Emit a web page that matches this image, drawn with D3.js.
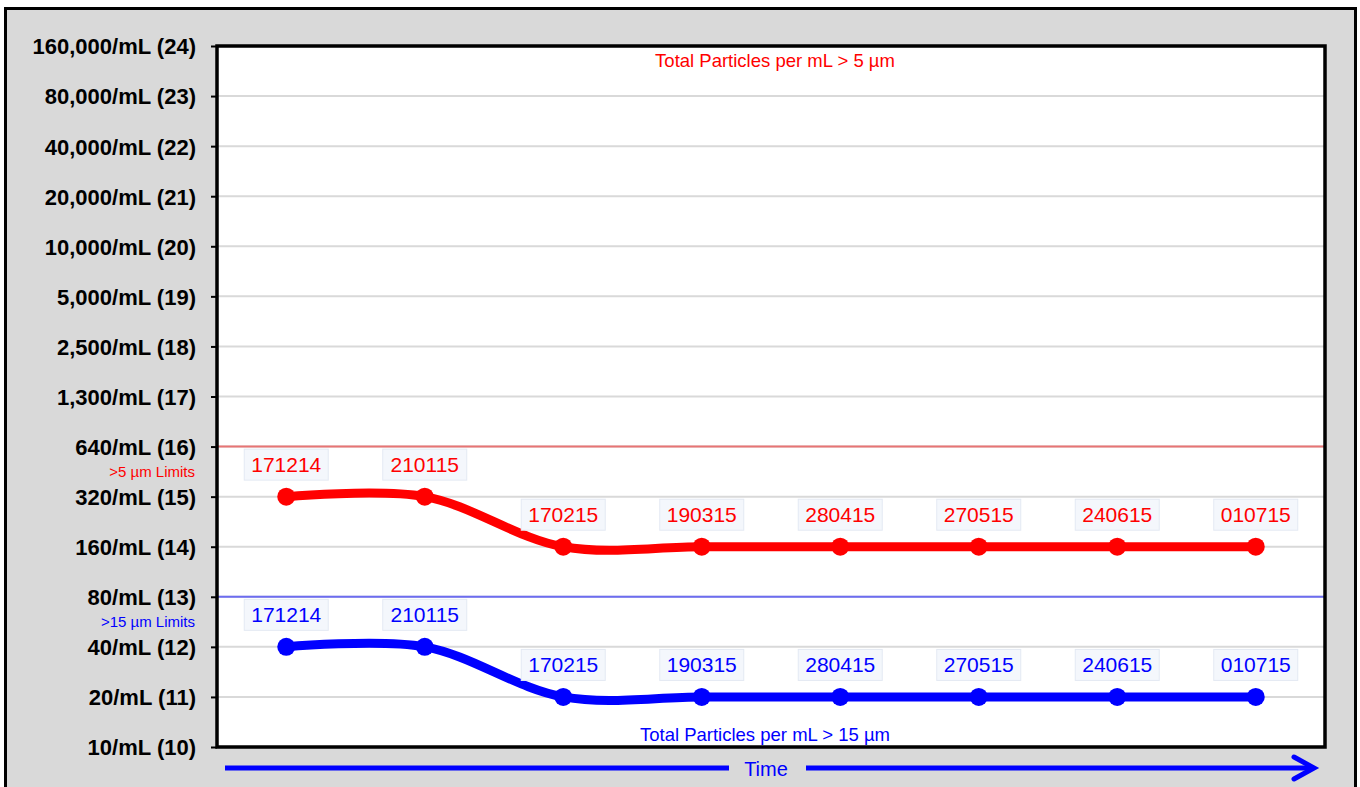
<!DOCTYPE html>
<html>
<head>
<meta charset="utf-8">
<script src="https://cdn.jsdelivr.net/npm/d3@7"></script>
<style>
html,body{margin:0;padding:0;background:#fff;overflow:hidden;}
svg{display:block;font-family:Arial,"Liberation Sans",sans-serif;}
</style>
</head>
<body>
<svg id="chart" width="1360" height="787"></svg>
<script>
// ---- data ----
const categories = ["171214","210115","170215","190315","280415","270515","240615","010715"];
const red5Codes   = [15,15,14,14,14,14,14,14];   // > 5 µm ISO code
const blue15Codes = [12,12,11,11,11,11,11,11];   // > 15 µm ISO code
const tickCodes  = [10,11,12,13,14,15,16,17,18,19,20,21,22,23,24];
const tickLabels = ["10/mL (10)","20/mL (11)","40/mL (12)","80/mL (13)","160/mL (14)","320/mL (15)",
  "640/mL (16)","1,300/mL (17)","2,500/mL (18)","5,000/mL (19)","10,000/mL (20)","20,000/mL (21)",
  "40,000/mL (22)","80,000/mL (23)","160,000/mL (24)"];
const limit5 = 16, limit15 = 13;
const limitLabels = [">5 µm Limits", ">15 µm Limits"];
const seriesNames = ["Total Particles per mL > 5 µm", "Total Particles per mL > 15 µm"];

// ---- layout ----
const svg = d3.select("#chart");
const L = 217, R = 1325, T = 46, B = 747;

svg.append("rect").attr("x",5.5).attr("y",8.5).attr("width",1350).attr("height",800)
  .attr("fill","#d9d9d9").attr("stroke","#000").attr("stroke-width",3);

svg.append("rect").attr("x",L).attr("y",T).attr("width",R-L).attr("height",B-T).attr("fill","#fff");

const x = d3.scaleBand().domain(categories).range([L,R]);
const cx = d => x(d) + x.bandwidth()/2;
const y = d3.scaleLinear().domain([10,24]).range([B,T]);

// gridlines
svg.append("g").selectAll("line").data(tickCodes.filter(c=>c>10 && c<24)).join("line")
  .attr("x1",L).attr("x2",R).attr("y1",d=>y(d)).attr("y2",d=>y(d))
  .attr("stroke","#d9d9d9").attr("stroke-width",2);

// limit lines
svg.append("line").attr("x1",L).attr("x2",R).attr("y1",y(limit5)).attr("y2",y(limit5))
  .attr("stroke","#e87474").attr("stroke-width",2);
svg.append("line").attr("x1",L).attr("x2",R).attr("y1",y(limit15)).attr("y2",y(limit15))
  .attr("stroke","#6c6cf0").attr("stroke-width",2);

// y axis
const yAxis = d3.axisLeft(y).tickValues(tickCodes)
  .tickFormat(d => tickLabels[tickCodes.indexOf(d)]).tickSize(6).tickPadding(15);
const ga = svg.append("g").attr("transform",`translate(${L},0)`).call(yAxis);
ga.select(".domain").remove();
ga.selectAll(".tick line").attr("stroke","#000").attr("stroke-width",2);
ga.selectAll(".tick text").attr("font-size","22px").attr("font-weight","bold")
  .attr("fill","#000").attr("font-family","Arial, 'Liberation Sans', sans-serif").attr("dy","0.36em");

// limit labels
svg.append("text").attr("x",195).attr("y",y(limit5)+30).attr("text-anchor","end")
  .attr("font-size","15px").attr("fill","#ff0000").text(limitLabels[0]);
svg.append("text").attr("x",195).attr("y",y(limit15)+30).attr("text-anchor","end")
  .attr("font-size","15px").attr("fill","#0000ff").text(limitLabels[1]);

// plot border
svg.append("rect").attr("x",L).attr("y",T).attr("width",R-L).attr("height",B-T)
  .attr("fill","none").attr("stroke","#000").attr("stroke-width",3.5);

// series
function drawSeries(vals,color){
  const pts = categories.map((c,i)=>[cx(c), y(vals[i])]);
  const line = d3.line().curve(d3.curveCatmullRom.alpha(0.5));
  svg.append("path").attr("d",line(pts)).attr("fill","none")
    .attr("stroke",color).attr("stroke-width",9).attr("stroke-linecap","round");
  svg.append("g").selectAll("circle").data(pts).join("circle")
    .attr("cx",d=>d[0]).attr("cy",d=>d[1]).attr("r",9).attr("fill",color);
  const lg = svg.append("g").selectAll("g").data(categories).join("g")
    .attr("transform",(c,i)=>`translate(${cx(c)},${y(vals[i])-32})`);
  lg.append("rect").attr("x",-42).attr("y",-15.5).attr("width",84).attr("height",31)
    .attr("fill","#f4f7fc").attr("stroke","#e3e9f3").attr("stroke-width",1);
  lg.append("text").attr("text-anchor","middle").attr("dy","0.36em")
    .attr("font-size","21px").attr("fill",color).text(d=>d);
}
drawSeries(red5Codes,"#ff0000");
drawSeries(blue15Codes,"#0000ff");

// series names
svg.append("text").attr("x",775).attr("y",67).attr("text-anchor","middle")
  .attr("font-size","18.5px").attr("fill","#ff0000").text(seriesNames[0]);
svg.append("text").attr("x",765).attr("y",741).attr("text-anchor","middle")
  .attr("font-size","18.5px").attr("fill","#0000ff").text(seriesNames[1]);

// time arrow
const ay = 768;
svg.append("line").attr("x1",225).attr("x2",729).attr("y1",ay).attr("y2",ay)
  .attr("stroke","#0000ff").attr("stroke-width",5);
svg.append("line").attr("x1",806).attr("x2",1314).attr("y1",ay).attr("y2",ay)
  .attr("stroke","#0000ff").attr("stroke-width",5);
svg.append("path").attr("d",`M1294,${ay-11} L1314,${ay} L1294,${ay+11}`)
  .attr("fill","none").attr("stroke","#0000ff").attr("stroke-width",5)
  .attr("stroke-linecap","round").attr("stroke-linejoin","miter");
svg.append("text").attr("x",766).attr("y",ay+8).attr("text-anchor","middle")
  .attr("font-size","20px").attr("fill","#0000ff").text("Time");
</script>
</body>
</html>
